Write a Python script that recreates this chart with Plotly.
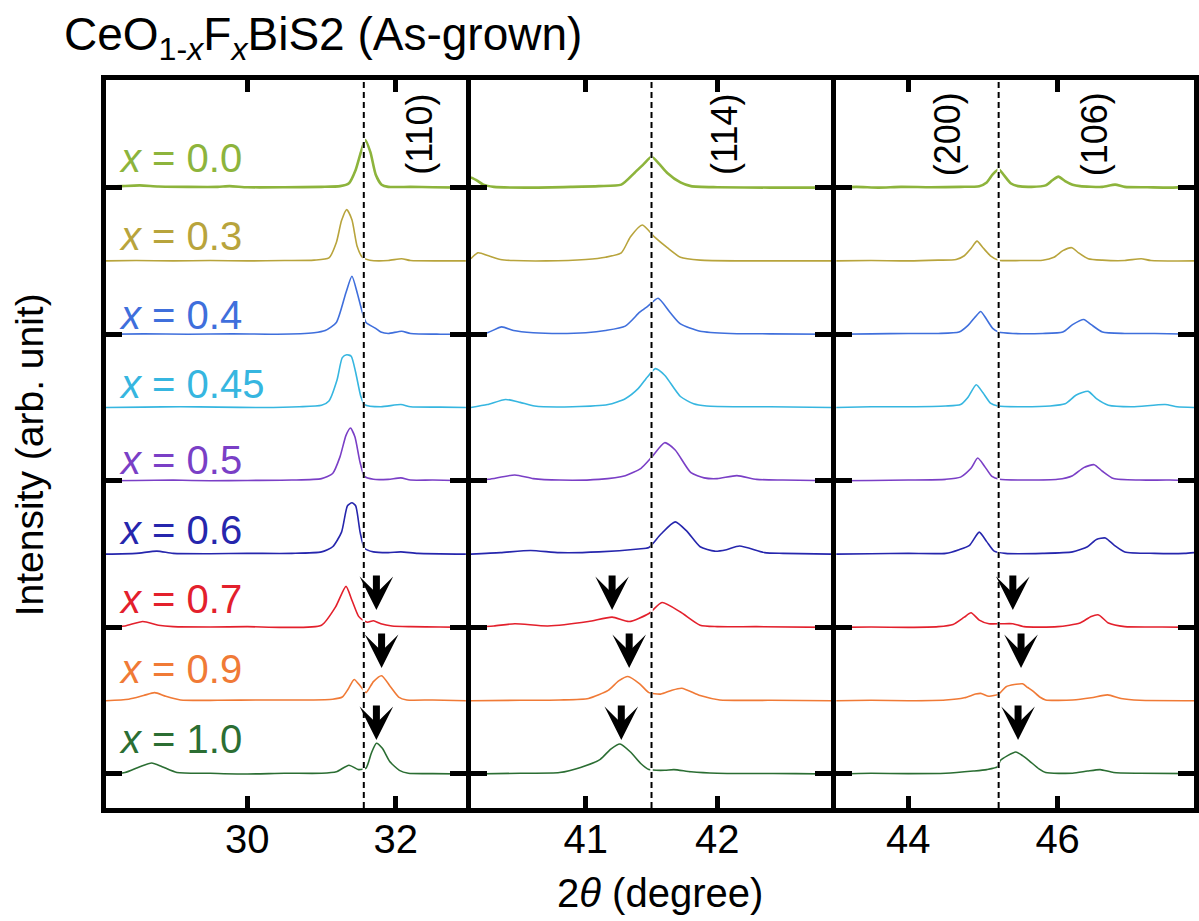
import plotly.graph_objects as go

# ---------------- data ----------------
samples = ["0.0", "0.3", "0.4", "0.45", "0.5", "0.6", "0.7", "0.9", "1.0"]
offsets = [8, 7, 6, 5, 4, 3, 2, 1, 0]
colors = ["#8db43c", "#b8a43c", "#3f6fdc", "#36b6e0", "#7a3fc6",
          "#2626ad", "#e3202c", "#f07a36", "#2b6e33"]

# panel 1 (28-33 deg): (2theta, intensity)
p1_00 = [(28.09,0.01),(28.3,0.02),(28.55,0.03),(28.8,0.015),(29.2,0.01),(29.6,0.01),(29.76,0.02),(30.0,0.005),(30.5,0.005),(31.0,0.01),(31.25,0.02),(31.37,0.06),(31.46,0.24),(31.53,0.48),(31.59,0.65),(31.66,0.48),(31.73,0.18),(31.81,0.04),(31.9,0.01),(32.2,0.01),(32.5,0.005),(32.95,0.0)]
p1_03 = [(28.09,0.0),(28.5,0.005),(29.0,0.0),(29.5,0.005),(30.0,0.0),(30.5,0.005),(30.9,0.01),(31.1,0.04),(31.2,0.25),(31.27,0.55),(31.34,0.70),(31.41,0.56),(31.48,0.2),(31.55,0.05),(31.65,0.01),(31.9,0.005),(32.08,0.03),(32.2,0.005),(32.6,0.0),(32.95,0.0)]
p1_04 = [(28.09,0.0),(28.6,0.005),(29.2,0.0),(29.8,0.005),(30.4,0.0),(30.9,0.02),(31.05,0.05),(31.2,0.16),(31.33,0.57),(31.41,0.79),(31.48,0.57),(31.55,0.3),(31.6,0.16),(31.73,0.08),(31.8,0.03),(31.9,0.01),(32.08,0.04),(32.2,0.01),(32.6,0.0),(32.95,0.0)]
p1_045 = [(28.09,0.0),(28.6,0.005),(29.1,0.01),(29.6,0.005),(30.2,0.0),(30.7,0.01),(31.0,0.03),(31.1,0.09),(31.21,0.38),(31.28,0.68),(31.34,0.72),(31.4,0.7),(31.46,0.48),(31.53,0.15),(31.58,0.04),(31.8,0.01),(32.07,0.04),(32.2,0.01),(32.6,0.005),(32.95,0.0)]
p1_05 = [(28.09,0.0),(28.5,0.005),(29.0,0.01),(29.5,0.0),(30.0,0.005),(30.6,0.01),(31.0,0.03),(31.15,0.1),(31.25,0.33),(31.33,0.62),(31.39,0.72),(31.45,0.6),(31.52,0.25),(31.58,0.06),(31.7,0.02),(31.9,0.02),(32.07,0.04),(32.2,0.01),(32.5,0.01),(32.95,0.0)]
p1_06 = [(28.09,0.0),(28.5,0.01),(28.78,0.04),(29.0,0.01),(29.5,0.005),(30.0,0.01),(30.6,0.01),(31.0,0.03),(31.15,0.1),(31.27,0.3),(31.35,0.66),(31.41,0.7),(31.46,0.66),(31.52,0.3),(31.58,0.08),(31.7,0.03),(31.9,0.02),(32.07,0.03),(32.3,0.01),(32.95,0.0)]
p1_07 = [(28.09,0.0),(28.35,0.02),(28.59,0.08),(28.8,0.03),(29.0,0.01),(29.5,0.005),(30.0,0.01),(30.5,0.0),(31.0,0.03),(31.19,0.28),(31.33,0.56),(31.41,0.37),(31.5,0.15),(31.57,0.09),(31.62,0.07),(31.7,0.09),(31.8,0.05),(31.95,0.02),(32.2,0.01),(32.6,0.005),(32.95,0.0)]
p1_09 = [(28.09,0.0),(28.4,0.02),(28.6,0.07),(28.75,0.11),(28.9,0.06),(29.1,0.01),(29.6,0.005),(30.2,0.01),(30.8,0.01),(31.15,0.02),(31.28,0.05),(31.36,0.16),(31.44,0.29),(31.53,0.19),(31.6,0.11),(31.7,0.26),(31.81,0.34),(31.93,0.19),(32.04,0.05),(32.15,0.01),(32.5,0.01),(32.95,0.0)]
p1_10 = [(28.09,0.0),(28.35,0.02),(28.55,0.1),(28.71,0.15),(28.85,0.1),(29.05,0.02),(29.5,0.01),(30.0,0.0),(30.5,0.01),(31.0,0.01),(31.2,0.03),(31.37,0.12),(31.5,0.06),(31.6,0.08),(31.67,0.28),(31.74,0.42),(31.82,0.35),(31.92,0.17),(32.05,0.05),(32.17,0.01),(32.5,0.005),(32.95,0.0)]

# panel 2 (40-43 deg)
p2_00 = [(40.125,0.14),(40.17,0.1),(40.22,0.04),(40.3,0.01),(40.6,0.0),(40.9,0.01),(41.1,0.02),(41.27,0.04),(41.37,0.2),(41.44,0.32),(41.5,0.42),(41.56,0.32),(41.62,0.2),(41.72,0.07),(41.8,0.02),(42.0,0.005),(42.4,0.0),(42.867,0.0)]
p2_03 = [(40.125,0.03),(40.18,0.11),(40.26,0.07),(40.35,0.02),(40.45,0.005),(40.7,0.0),(41.0,0.02),(41.15,0.05),(41.27,0.11),(41.34,0.33),(41.43,0.49),(41.52,0.33),(41.62,0.18),(41.72,0.05),(41.87,0.01),(42.2,0.0),(42.867,0.0)]
p2_04 = [(40.125,0.0),(40.25,0.02),(40.36,0.1),(40.45,0.05),(40.6,0.02),(40.8,0.01),(41.0,0.02),(41.15,0.05),(41.3,0.11),(41.41,0.3),(41.47,0.38),(41.55,0.49),(41.64,0.3),(41.72,0.14),(41.87,0.04),(42.1,0.01),(42.4,0.005),(42.867,0.0)]
p2_045 = [(40.125,0.0),(40.25,0.04),(40.39,0.11),(40.5,0.07),(40.61,0.02),(40.9,0.01),(41.17,0.04),(41.3,0.12),(41.4,0.26),(41.47,0.42),(41.53,0.53),(41.6,0.44),(41.72,0.15),(41.82,0.05),(41.92,0.02),(42.2,0.01),(42.4,0.01),(42.867,0.0)]
p2_05 = [(40.125,0.0),(40.26,0.02),(40.46,0.08),(40.6,0.03),(40.8,0.01),(41.1,0.02),(41.3,0.07),(41.42,0.17),(41.5,0.32),(41.6,0.52),(41.68,0.42),(41.8,0.11),(41.9,0.04),(42.0,0.03),(42.15,0.07),(42.3,0.02),(42.5,0.01),(42.867,0.0)]
p2_06 = [(40.125,0.0),(40.35,0.02),(40.58,0.05),(40.8,0.02),(41.1,0.03),(41.4,0.07),(41.48,0.09),(41.57,0.27),(41.68,0.44),(41.77,0.31),(41.87,0.1),(41.98,0.04),(42.07,0.06),(42.17,0.11),(42.36,0.02),(42.5,0.01),(42.867,0.0)]
p2_07 = [(40.125,0.0),(40.3,0.02),(40.46,0.05),(40.71,0.02),(41.02,0.08),(41.2,0.14),(41.33,0.08),(41.48,0.19),(41.58,0.34),(41.72,0.21),(41.87,0.03),(42.0,0.01),(42.3,0.01),(42.867,0.0)]
p2_09 = [(40.125,0.0),(40.5,0.005),(40.8,0.01),(41.02,0.03),(41.17,0.14),(41.25,0.27),(41.32,0.33),(41.41,0.23),(41.48,0.11),(41.57,0.09),(41.65,0.14),(41.73,0.17),(41.87,0.07),(42.02,0.01),(42.4,0.005),(42.867,0.0)]
p2_10 = [(40.125,0.0),(40.5,0.01),(40.8,0.02),(40.96,0.09),(41.11,0.2),(41.19,0.34),(41.26,0.41),(41.34,0.3),(41.42,0.14),(41.48,0.06),(41.6,0.05),(41.67,0.06),(41.8,0.03),(42.0,0.01),(42.6,0.005),(42.867,0.0)]

# panel 3 (43-48 deg)
p3_00 = [(43.033,0.0),(43.3,0.01),(43.6,0.0),(43.9,0.01),(44.3,0.005),(44.7,0.01),(44.95,0.02),(45.05,0.07),(45.13,0.18),(45.21,0.25),(45.28,0.17),(45.37,0.06),(45.47,0.02),(45.65,0.01),(45.84,0.03),(45.93,0.1),(46.01,0.15),(46.1,0.09),(46.2,0.04),(46.3,0.02),(46.6,0.01),(46.77,0.04),(46.9,0.01),(47.2,0.005),(47.5,0.0),(47.827,0.01)]
p3_03 = [(43.033,0.0),(43.5,0.005),(44.0,0.0),(44.4,0.01),(44.64,0.02),(44.75,0.07),(44.84,0.17),(44.92,0.27),(45.0,0.18),(45.1,0.07),(45.21,0.01),(45.5,0.005),(45.8,0.01),(45.95,0.05),(46.07,0.14),(46.19,0.18),(46.28,0.11),(46.41,0.03),(46.6,0.01),(46.9,0.005),(47.12,0.03),(47.25,0.005),(47.827,0.0)]
p3_04 = [(43.033,0.0),(43.5,0.005),(44.0,0.01),(44.4,0.01),(44.68,0.03),(44.8,0.12),(44.9,0.24),(44.97,0.31),(45.05,0.2),(45.13,0.08),(45.21,0.03),(45.4,0.01),(45.8,0.01),(46.07,0.03),(46.2,0.13),(46.35,0.2),(46.45,0.13),(46.6,0.03),(46.9,0.01),(47.3,0.01),(47.827,0.0)]
p3_045 = [(43.033,0.0),(43.5,0.01),(44.0,0.01),(44.5,0.02),(44.7,0.04),(44.8,0.14),(44.91,0.31),(45.0,0.2),(45.1,0.06),(45.2,0.02),(45.5,0.01),(45.9,0.02),(46.1,0.05),(46.25,0.17),(46.41,0.22),(46.52,0.12),(46.68,0.03),(47.0,0.01),(47.44,0.04),(47.6,0.01),(47.827,0.0)]
p3_05 = [(43.033,0.0),(43.5,0.005),(44.0,0.01),(44.5,0.02),(44.7,0.05),(44.84,0.17),(44.93,0.31),(45.02,0.2),(45.12,0.06),(45.22,0.02),(45.6,0.01),(46.0,0.02),(46.2,0.07),(46.35,0.18),(46.49,0.22),(46.6,0.13),(46.75,0.03),(47.1,0.01),(47.5,0.01),(47.827,0.0)]
p3_06 = [(43.033,0.0),(43.5,0.005),(44.0,0.01),(44.5,0.01),(44.68,0.06),(44.82,0.12),(44.95,0.3),(45.05,0.17),(45.15,0.04),(45.3,0.01),(45.8,0.01),(46.2,0.03),(46.4,0.1),(46.52,0.2),(46.64,0.22),(46.76,0.12),(46.9,0.03),(47.3,0.01),(47.7,0.01),(47.827,0.02)]
p3_07 = [(43.033,0.0),(43.5,0.005),(44.0,0.0),(44.4,0.01),(44.6,0.04),(44.75,0.14),(44.84,0.2),(44.95,0.1),(45.08,0.05),(45.25,0.05),(45.4,0.05),(45.55,0.01),(46.0,0.01),(46.3,0.06),(46.45,0.15),(46.55,0.17),(46.68,0.06),(46.9,0.01),(47.4,0.005),(47.827,0.0)]
p3_09 = [(43.033,0.0),(43.5,0.005),(44.0,0.0),(44.5,0.01),(44.75,0.04),(44.9,0.09),(44.97,0.1),(45.08,0.06),(45.21,0.09),(45.31,0.19),(45.42,0.22),(45.53,0.23),(45.6,0.18),(45.67,0.13),(45.76,0.05),(45.84,0.01),(46.2,0.01),(46.45,0.04),(46.67,0.08),(46.85,0.03),(47.1,0.005),(47.827,0.0)]
p3_10 = [(43.033,0.0),(43.5,0.01),(44.0,0.005),(44.5,0.01),(44.87,0.04),(45.05,0.06),(45.2,0.1),(45.23,0.18),(45.33,0.25),(45.44,0.3),(45.53,0.25),(45.62,0.18),(45.75,0.07),(45.84,0.02),(46.2,0.01),(46.4,0.04),(46.57,0.06),(46.75,0.02),(47.1,0.01),(47.827,0.005)]

panel1 = [p1_00, p1_03, p1_04, p1_045, p1_05, p1_06, p1_07, p1_09, p1_10]
panel2 = [p2_00, p2_03, p2_04, p2_045, p2_05, p2_06, p2_07, p2_09, p2_10]
panel3 = [p3_00, p3_03, p3_04, p3_045, p3_05, p3_06, p3_07, p3_09, p3_10]

x_ranges = [(28.094, 32.946), (40.125, 42.867), (43.033, 47.827)]
x_ticks = [[30, 32], [41, 42], [44, 46]]
ref_lines = [31.57, 41.5, 45.21]
peak_labels = [("(110)", 1, 32.31), ("(114)", 2, 42.05), ("(200)", 3, 44.52), ("(106)", 3, 46.49)]
# arrows: (panel, 2theta, sample index)
arrow_pts = [(1, 31.74, 6), (1, 31.81, 7), (1, 31.74, 8),
             (2, 41.20, 6), (2, 41.33, 7), (2, 41.27, 8),
             (3, 45.40, 6), (3, 45.51, 7), (3, 45.47, 8)]
arrow_lift = [0.237, 0.446, 0.464]   # arrow tip height above baseline (x = 0.7, 0.9, 1.0)

# ---------------- layout geometry ----------------
FONT = "Liberation Sans, Arial, sans-serif"
W, H = 1199, 921
ML, MT, MB = 106, 80, 113
domains = [(0.0, 0.33074), (0.33532, 0.66651), (0.67109, 1.0)]
y_range = (-0.464, 9.468)

fig = go.Figure()
for pi, panel in enumerate([panel1, panel2, panel3]):
    ax = "" if pi == 0 else str(pi + 1)
    for si, pts in enumerate(panel):
        fig.add_trace(go.Scatter(
            x=[p[0] for p in pts],
            y=[p[1] + offsets[si] for p in pts],
            mode="lines",
            line=dict(color=colors[si], width=2.6 if si == 0 else 1.6, shape="spline", smoothing=0.6),
            xaxis="x" + ax, yaxis="y" + ax, showlegend=False, hoverinfo="skip"))

axis_common = dict(showline=True, linewidth=5, linecolor="black", mirror="ticks",
                   ticks="inside", tickcolor="black", showgrid=False, zeroline=False)
lay = {}
for pi in range(3):
    ax = "" if pi == 0 else str(pi + 1)
    lay["xaxis" + ax] = dict(domain=list(domains[pi]), range=list(x_ranges[pi]), tickvals=x_ticks[pi],
                            ticklen=12, tickwidth=5, anchor="y" + ax, ticklabelstandoff=-8,
                            tickfont=dict(family=FONT, size=40, color="black"), **axis_common)
    lay["yaxis" + ax] = dict(domain=[0, 1], range=list(y_range), tickvals=[0, 2, 4, 6, 8],
                            showticklabels=False, ticklen=16, tickwidth=5, anchor="x" + ax, **axis_common)

annotations = []
label_y = [8.40, 7.34, 6.26, 5.32, 4.28, 3.33, 2.39, 1.43, 0.48]
for si, s in enumerate(samples):
    annotations.append(dict(text="<i>x</i> = " + s, x=28.24, y=label_y[si], xref="x", yref="y",
                            xanchor="left", yanchor="middle", showarrow=False,
                            font=dict(family=FONT, size=40, color=colors[si])))
for txt, pi, xv in peak_labels:
    ax = "" if pi == 1 else str(pi)
    annotations.append(dict(text=txt, x=xv, y=8.73, xref="x" + ax, yref="y" + ax, textangle=-90,
                            xanchor="center", yanchor="middle", showarrow=False,
                            font=dict(family=FONT, size=36, color="black")))
lift_by_sample = {6: arrow_lift[0], 7: arrow_lift[1], 8: arrow_lift[2]}
for pi, xv, si in arrow_pts:
    ax = "" if pi == 1 else str(pi)
    annotations.append(dict(text="", x=xv, y=offsets[si] + lift_by_sample[si], xref="x" + ax, yref="y" + ax,
                            showarrow=True, ax=0, ay=-36, arrowhead=3, arrowsize=0.8, arrowwidth=7,
                            arrowcolor="black", standoff=0))
annotations.append(dict(text="CeO<sub>1-<i>x</i></sub>F<sub><i>x</i></sub>BiS2 (As-grown)",
                        x=-0.0403, y=1.0577, xref="paper", yref="paper", xanchor="left", yanchor="middle",
                        showarrow=False, font=dict(family=FONT, size=46, color="black")))
annotations.append(dict(text="2<i>θ</i> (degree)", x=0.5096, y=-0.1168, xref="paper", yref="paper",
                        xanchor="center", yanchor="middle", showarrow=False,
                        font=dict(family=FONT, size=40, color="black")))
annotations.append(dict(text="Intensity (arb. unit)", x=-0.0695, y=0.485, xref="paper", yref="paper",
                        textangle=-90, xanchor="center", yanchor="middle", showarrow=False,
                        font=dict(family=FONT, size=39, color="black")))

shapes = []
for pi, xv in enumerate(ref_lines):
    ax = "" if pi == 0 else str(pi + 1)
    shapes.append(dict(type="line", xref="x" + ax, yref="paper", x0=xv, x1=xv, y0=0, y1=1,
                       line=dict(color="white", width=2.5), layer="above"))
    shapes.append(dict(type="line", xref="x" + ax, yref="paper", x0=xv, x1=xv, y0=0, y1=1,
                       line=dict(color="black", width=2, dash="6px,4px"), layer="above"))

fig.update_layout(width=W, height=H, margin=dict(l=ML, r=0, t=MT, b=MB),
                  paper_bgcolor="white", plot_bgcolor="white",
                  annotations=annotations, shapes=shapes, **lay)
fig.write_html("out.html", config={"displayModeBar": False},
               post_script="document.body.style.margin='0px';document.body.style.overflow='hidden';")
